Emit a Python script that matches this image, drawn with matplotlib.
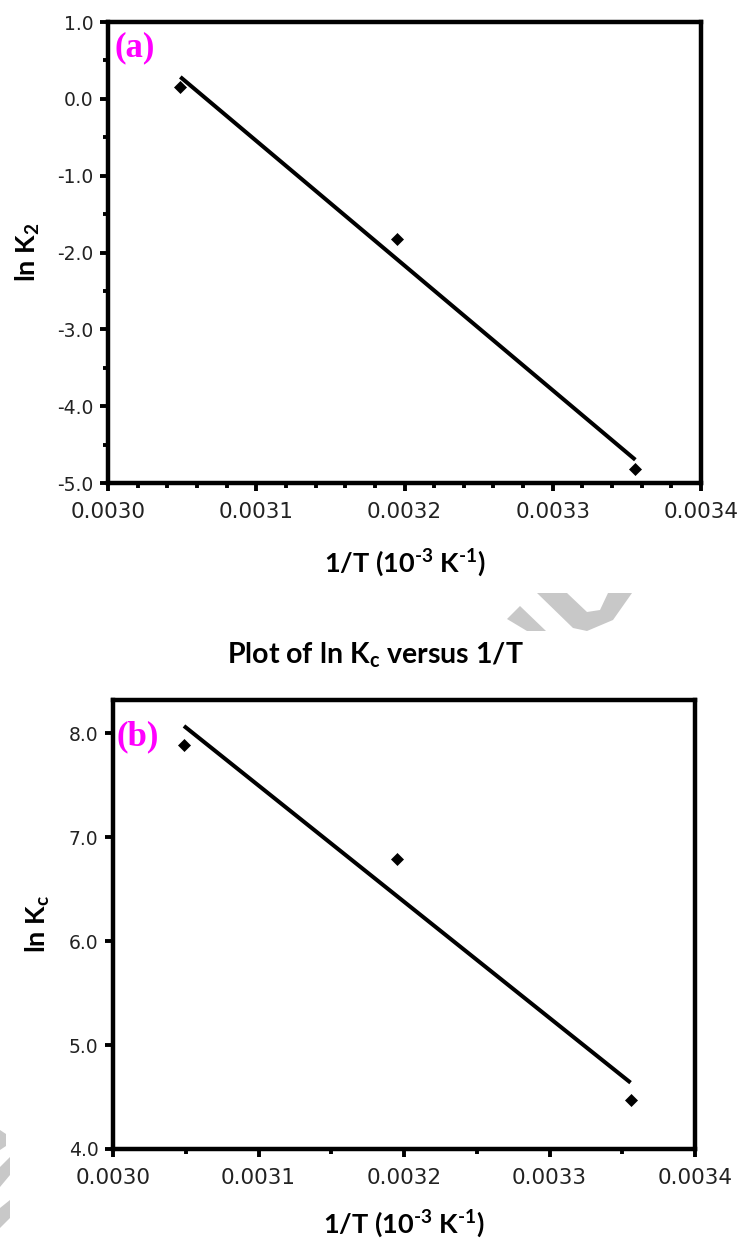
import numpy as np
import matplotlib
matplotlib.use("Agg")
import matplotlib.pyplot as plt
from matplotlib.patches import Polygon
from matplotlib.ticker import MultipleLocator, FormatStrFormatter

# ---- data ----
temps_K = [328.0, 313.0, 298.0]
inv_T = [1.0 / t for t in temps_K]
ln_K2 = [0.15, -1.83, -4.82]
ln_Kc = [7.885, 6.79, 4.47]

panel_a_label = "(a)"
panel_b_label = "(b)"
xlabel_text = "1/T (10$^{\\mathrm{\u20103}}$ K$^{\\mathrm{\u20101}}$)"
ylabel_a = r"ln K$_{\mathrm{2}}$"
ylabel_b = r"ln K$_{\mathrm{c}}$"
title_b = r"Plot of ln K$_{\mathrm{c}}$ versus 1/T"

plt.rcParams["axes.unicode_minus"] = False
plt.rcParams["mathtext.fontset"] = "custom"
plt.rcParams["mathtext.rm"] = "Lato:bold"
plt.rcParams["mathtext.bf"] = "Lato:bold"
plt.rcParams["mathtext.it"] = "Lato:bold"

W, H = 743, 1245
fig = plt.figure(figsize=(W / 100, H / 100), dpi=100)

def px(x, y):
    return x / W, 1 - y / H

def make_axes(l, t, r, b):
    return fig.add_axes([l / W, 1 - b / H, (r - l) / W, (b - t) / H])

label_font = dict(family="Lato", weight="bold")
SPINE_W = 3.2

def style_axes(ax, xminor, yminor):
    for s in ax.spines.values():
        s.set_linewidth(SPINE_W)
        s.set_color("black")
    ax.xaxis.set_major_locator(MultipleLocator(0.0001))
    ax.xaxis.set_major_formatter(FormatStrFormatter("%.4f"))
    ax.yaxis.set_major_formatter(FormatStrFormatter("%.1f"))
    if xminor:
        ax.xaxis.set_minor_locator(MultipleLocator(xminor))
    if yminor:
        ax.yaxis.set_minor_locator(MultipleLocator(yminor))
    ax.tick_params(which="major", direction="out", length=5.5, width=2.8, color="black")
    ax.tick_params(which="minor", direction="out", length=3.5, width=2.8, color="black")
    ax.tick_params(axis="x", which="major", labelsize=15.5, pad=8)
    ax.tick_params(axis="y", which="major", labelsize=13.5, pad=5)
    for lab in ax.get_xticklabels() + ax.get_yticklabels():
        lab.set_family("DejaVu Sans")
        lab.set_color("#222222")
    ax.tick_params(top=False, right=False)

def draw_panel(ax, x, y):
    ax.plot(x, y, linestyle="none", marker="D", markersize=6.3,
            color="black", markeredgewidth=0.5, zorder=3)
    coef = np.polyfit(x, y, 1)
    xs = np.array([min(x), max(x)])
    ax.plot(xs, np.polyval(coef, xs), color="black", linewidth=2.9,
            solid_capstyle="butt", zorder=2)

# ---- panel (a) ----
ax1 = make_axes(108, 22, 701, 483)
draw_panel(ax1, inv_T, ln_K2)
ax1.set_xlim(0.0030, 0.0034)
ax1.set_ylim(-5.0, 1.0)
ax1.yaxis.set_major_locator(MultipleLocator(1.0))
style_axes(ax1, 0.00002, 0.5)
ax1.text(0.011, 0.945, panel_a_label, transform=ax1.transAxes, color="#ff00ff",
         fontsize=25, fontweight="bold", family="Liberation Serif",
         ha="left", va="center")

# ---- panel (b) ----
ax2 = make_axes(113, 700, 695, 1149)
draw_panel(ax2, inv_T, ln_Kc)
ax2.set_xlim(0.0030, 0.0034)
ax2.set_ylim(4.0, 8.32)
ax2.yaxis.set_major_locator(MultipleLocator(1.0))
style_axes(ax2, 0.00005, None)
ax2.text(0.006, 0.918, panel_b_label, transform=ax2.transAxes, color="#ff00ff",
         fontsize=25, fontweight="bold", family="Liberation Serif",
         ha="left", va="center")

# ---- labels ----
LBL = 19.5
fig.text(*px(405, 563), xlabel_text, ha="center", va="center", fontsize=LBL, **label_font)
fig.text(*px(404, 1224), xlabel_text, ha="center", va="center", fontsize=LBL, **label_font)
fig.text(*px(28, 252), ylabel_a, ha="center", va="center", rotation=90, fontsize=LBL, **label_font)
fig.text(*px(38, 924), ylabel_b, ha="center", va="center", rotation=90, fontsize=LBL, **label_font)
fig.text(*px(375, 655), title_b, ha="center", va="center", fontsize=20.5, **label_font)

# ---- faint watermark fragments ----
wm = "#c8c8c8"
wm_shapes = [
    [(507, 619), (520, 606), (546, 631), (527, 631)],
    [(537, 593), (567, 593), (587, 612), (600, 610), (608, 593), (632, 593),
     (613, 620), (587, 631), (573, 628)],
    [(0, 1130), (6, 1134), (6, 1146), (0, 1150)],
    [(0, 1167), (10, 1157), (10, 1175), (0, 1187)],
    [(0, 1208), (10, 1200), (10, 1218), (0, 1228)],
]
for shp in wm_shapes:
    fig.patches.append(Polygon([px(a, b) for a, b in shp], closed=True,
                               transform=fig.transFigure, facecolor=wm,
                               edgecolor="none", zorder=0))

fig.savefig("out.png", dpi=100, facecolor="white")
